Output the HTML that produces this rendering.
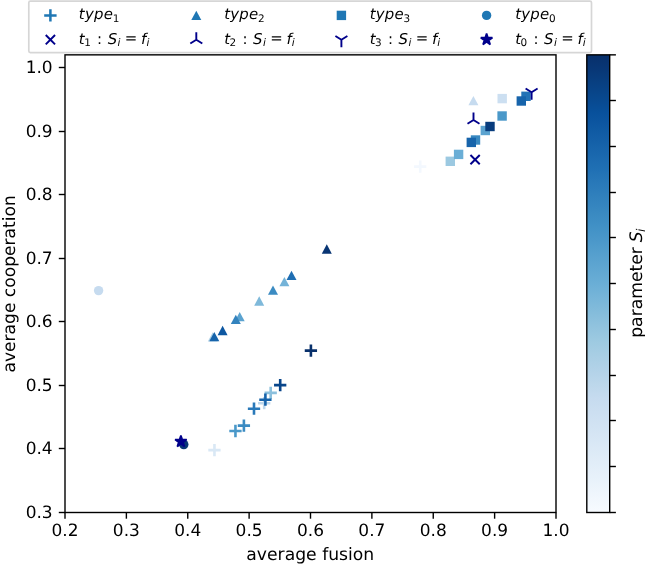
<!DOCTYPE html>
<html lang="en"><head><meta charset="utf-8"><title>average cooperation vs average fusion</title>
<style>html,body{margin:0;padding:0;background:#fff}svg{display:block;will-change:transform}text{text-rendering:geometricPrecision}</style></head>
<body>
<svg width="645" height="564" viewBox="0 0 645 564">
<rect width="645" height="564" fill="#fff"/>
<g id="data">
<path d="M414.05 166.60H426.35M420.20 160.45V172.75" stroke="#f3f8fe" stroke-width="2.6" fill="none"/>
<path d="M208.30 450.10H220.60M214.45 443.95V456.25" stroke="#d9e8f5" stroke-width="2.6" fill="none"/>
<path d="M229.30 431.00H241.60M235.45 424.85V437.15" stroke="#4a98c9" stroke-width="2.6" fill="none"/>
<path d="M237.75 425.65H250.05M243.90 419.50V431.80" stroke="#3b8bc2" stroke-width="2.6" fill="none"/>
<path d="M247.85 408.70H260.15M254.00 402.55V414.85" stroke="#2979b9" stroke-width="2.6" fill="none"/>
<path d="M258.05 403.20H270.35M264.20 397.05V409.35" stroke="#bdd7ec" stroke-width="2.6" fill="none"/>
<path d="M264.55 392.90H276.85M270.70 386.75V399.05" stroke="#8cc0dd" stroke-width="2.6" fill="none"/>
<path d="M259.25 399.70H271.55M265.40 393.55V405.85" stroke="#1764ab" stroke-width="2.6" fill="none"/>
<path d="M274.05 385.10H286.35M280.20 378.95V391.25" stroke="#08458a" stroke-width="2.6" fill="none"/>
<path d="M304.75 350.60H317.05M310.90 344.45V356.75" stroke="#08306b" stroke-width="2.6" fill="none"/>
<path d="M212.80 332.25L207.80 341.55L217.80 341.55Z" fill="#add0e6"/>
<path d="M214.30 332.00L209.30 341.30L219.30 341.30Z" fill="#1764ab"/>
<path d="M222.60 325.85L217.60 335.15L227.60 335.15Z" fill="#0d57a1"/>
<path d="M239.70 312.05L234.70 321.35L244.70 321.35Z" fill="#5ba3d0"/>
<path d="M235.80 314.65L230.80 323.95L240.80 323.95Z" fill="#3383be"/>
<path d="M259.20 296.35L254.20 305.65L264.20 305.65Z" fill="#7fb9da"/>
<path d="M273.00 285.55L268.00 294.85L278.00 294.85Z" fill="#3b8bc2"/>
<path d="M284.40 277.05L279.40 286.35L289.40 286.35Z" fill="#74b3d8"/>
<path d="M291.50 270.75L286.50 280.05L296.50 280.05Z" fill="#1f6eb3"/>
<path d="M326.80 244.35L321.80 253.65L331.80 253.65Z" fill="#083573"/>
<path d="M473.40 96.00L468.40 105.30L478.40 105.30Z" fill="#c6dbef"/>
<rect x="445.60" y="156.60" width="9.4" height="9.4" fill="#9cc9e1"/>
<rect x="453.90" y="149.70" width="9.4" height="9.4" fill="#6aaed6"/>
<rect x="470.80" y="135.30" width="9.4" height="9.4" fill="#3989c1"/>
<rect x="466.60" y="137.70" width="9.4" height="9.4" fill="#1764ab"/>
<rect x="480.60" y="125.80" width="9.4" height="9.4" fill="#5ba3d0"/>
<rect x="485.30" y="121.80" width="9.4" height="9.4" fill="#083c7d"/>
<rect x="497.40" y="111.30" width="9.4" height="9.4" fill="#4a98c9"/>
<rect x="497.50" y="93.90" width="9.4" height="9.4" fill="#ccdff1"/>
<rect x="521.30" y="91.60" width="9.4" height="9.4" fill="#2373b6"/>
<rect x="516.60" y="96.30" width="9.4" height="9.4" fill="#1764ab"/>
<circle cx="98.60" cy="290.60" r="4.70" fill="#c6dbef"/>
<circle cx="183.80" cy="444.60" r="4.70" fill="#083776"/>
<path d="M470.45 154.95L479.75 164.25M470.45 164.25L479.75 154.95" stroke="#00008b" stroke-width="1.95" fill="none"/>
<path d="M473.50 120.00V112.50M473.50 120.00L479.50 123.75M473.50 120.00L467.50 123.75" stroke="#00008b" stroke-width="1.9" fill="none"/>
<path d="M531.60 92.20V99.70M531.60 92.20L537.60 88.45M531.60 92.20L525.60 88.45" stroke="#00008b" stroke-width="1.9" fill="none"/>
<polygon points="180.90,435.40 182.27,439.61 186.70,439.61 183.12,442.22 184.49,446.44 180.90,443.83 177.31,446.44 178.68,442.22 175.10,439.61 179.53,439.61" fill="#00008b" stroke="#00008b" stroke-width="1.7" stroke-linejoin="bevel"/>
</g>
<g id="axes" stroke="#000" stroke-width="1.4" fill="none">
<rect x="65.0" y="54.85" width="491.00" height="457.65"/>
<path d="M65.00 512.5v6.2"/>
<path d="M126.38 512.5v6.2"/>
<path d="M187.75 512.5v6.2"/>
<path d="M249.12 512.5v6.2"/>
<path d="M310.50 512.5v6.2"/>
<path d="M371.88 512.5v6.2"/>
<path d="M433.25 512.5v6.2"/>
<path d="M494.62 512.5v6.2"/>
<path d="M556.00 512.5v6.2"/>
<path d="M65.0 512.50h-6.2"/>
<path d="M65.0 448.50h-6.2"/>
<path d="M65.0 385.50h-6.2"/>
<path d="M65.0 321.50h-6.2"/>
<path d="M65.0 258.50h-6.2"/>
<path d="M65.0 194.50h-6.2"/>
<path d="M65.0 131.50h-6.2"/>
<path d="M65.0 67.50h-6.2"/>
</g>
<g id="ticklabels" font-family="'DejaVu Sans','Liberation Sans',sans-serif" font-size="17.0" fill="#000">
<text x="65.00" y="536.4" text-anchor="middle">0.2</text>
<text x="126.38" y="536.4" text-anchor="middle">0.3</text>
<text x="187.75" y="536.4" text-anchor="middle">0.4</text>
<text x="249.12" y="536.4" text-anchor="middle">0.5</text>
<text x="310.50" y="536.4" text-anchor="middle">0.6</text>
<text x="371.88" y="536.4" text-anchor="middle">0.7</text>
<text x="433.25" y="536.4" text-anchor="middle">0.8</text>
<text x="494.62" y="536.4" text-anchor="middle">0.9</text>
<text x="556.00" y="536.4" text-anchor="middle">1.0</text>
<text x="52.70" y="518.30" text-anchor="end">0.3</text>
<text x="52.70" y="454.30" text-anchor="end">0.4</text>
<text x="52.70" y="391.30" text-anchor="end">0.5</text>
<text x="52.70" y="327.30" text-anchor="end">0.6</text>
<text x="52.70" y="264.30" text-anchor="end">0.7</text>
<text x="52.70" y="200.30" text-anchor="end">0.8</text>
<text x="52.70" y="137.30" text-anchor="end">0.9</text>
<text x="52.70" y="73.30" text-anchor="end">1.0</text>
<text x="310.3" y="559.6" text-anchor="middle" font-size="17.2">average fusion</text>
<text transform="translate(14.6 283.9) rotate(-90)" text-anchor="middle" font-size="17.1">average cooperation</text>
</g>
<defs><linearGradient id="cb" x1="0" y1="0" x2="0" y2="1"><stop offset="0.0000" stop-color="#08306b"/><stop offset="0.0312" stop-color="#083776"/><stop offset="0.0625" stop-color="#084082"/><stop offset="0.0938" stop-color="#08488e"/><stop offset="0.1250" stop-color="#08509b"/><stop offset="0.1562" stop-color="#0e58a2"/><stop offset="0.1875" stop-color="#1460a8"/><stop offset="0.2188" stop-color="#1a68ae"/><stop offset="0.2500" stop-color="#2070b4"/><stop offset="0.2812" stop-color="#2979b9"/><stop offset="0.3125" stop-color="#3181bd"/><stop offset="0.3438" stop-color="#3989c1"/><stop offset="0.3750" stop-color="#4191c6"/><stop offset="0.4062" stop-color="#4b98ca"/><stop offset="0.4375" stop-color="#56a0ce"/><stop offset="0.4688" stop-color="#60a7d2"/><stop offset="0.5000" stop-color="#6aaed6"/><stop offset="0.5312" stop-color="#77b5d9"/><stop offset="0.5625" stop-color="#84bcdb"/><stop offset="0.5938" stop-color="#91c3de"/><stop offset="0.6250" stop-color="#9dcae1"/><stop offset="0.6562" stop-color="#a8cee4"/><stop offset="0.6875" stop-color="#b2d2e8"/><stop offset="0.7188" stop-color="#bcd7eb"/><stop offset="0.7500" stop-color="#c6dbef"/><stop offset="0.7812" stop-color="#ccdff1"/><stop offset="0.8125" stop-color="#d2e3f3"/><stop offset="0.8438" stop-color="#d8e7f5"/><stop offset="0.8750" stop-color="#deebf7"/><stop offset="0.9062" stop-color="#e4eff9"/><stop offset="0.9375" stop-color="#eaf3fb"/><stop offset="0.9688" stop-color="#f1f7fd"/><stop offset="1.0000" stop-color="#f7fbff"/></linearGradient></defs>
<rect x="586.8" y="54.85" width="22.90" height="457.65" fill="url(#cb)" stroke="#000" stroke-width="1.4"/>
<g stroke="#000" stroke-width="1.4">
<path d="M609.7 54.85h6.2"/>
<path d="M609.7 100.50h6.2"/>
<path d="M609.7 146.50h6.2"/>
<path d="M609.7 192.50h6.2"/>
<path d="M609.7 237.50h6.2"/>
<path d="M609.7 283.50h6.2"/>
<path d="M609.7 329.50h6.2"/>
<path d="M609.7 375.50h6.2"/>
<path d="M609.7 420.50h6.2"/>
<path d="M609.7 466.50h6.2"/>
<path d="M609.7 512.50h6.2"/>
</g>
<g font-family="'DejaVu Sans','Liberation Sans',sans-serif" fill="#000" transform="translate(642.0 337.8) rotate(-90)">
<text x="0" y="0" font-size="17.2">parameter</text>
<text x="95.6" y="0" font-size="17.2" font-style="italic">S</text>
<text x="105.9" y="2.6" font-size="12.04" font-style="italic">i</text>
</g>
<rect x="28.8" y="1.2" width="562.70" height="51.40" rx="1.6" fill="#fff" fill-opacity="0.8" stroke="#ccc" stroke-opacity="0.8" stroke-width="1.68"/>
<path d="M44.20 15.40H56.60M50.40 9.20V21.60" stroke="#1f77b4" stroke-width="2.5" fill="none"/>
<path d="M196.30 10.75L191.30 20.05L201.30 20.05Z" fill="#1f77b4"/>
<rect x="336.70" y="10.70" width="9.4" height="9.4" fill="#1f77b4"/>
<circle cx="486.60" cy="15.40" r="4.70" fill="#1f77b4"/>
<path d="M45.75 35.05L55.05 44.35M45.75 44.35L55.05 35.05" stroke="#00008b" stroke-width="1.95" fill="none"/>
<path d="M196.30 39.70V32.20M196.30 39.70L202.30 43.45M196.30 39.70L190.30 43.45" stroke="#00008b" stroke-width="1.9" fill="none"/>
<path d="M341.40 39.70V47.20M341.40 39.70L347.40 35.95M341.40 39.70L335.40 35.95" stroke="#00008b" stroke-width="1.9" fill="none"/>
<polygon points="486.60,33.50 487.97,37.71 492.40,37.71 488.82,40.32 490.19,44.54 486.60,41.93 483.01,44.54 484.38,40.32 480.80,37.71 485.23,37.71" fill="#00008b" stroke="#00008b" stroke-width="1.7" stroke-linejoin="bevel"/>
<g font-family="'DejaVu Sans','Liberation Sans',sans-serif" fill="#000" font-size="14.9">
<text x="78.8" y="19.4" font-style="italic" letter-spacing="0.25">type</text>
<text x="112.70" y="21.60" font-size="10.43">1</text>
<text x="78.8" y="43.6" font-style="italic">t</text>
<text x="84.20" y="45.80" font-size="10.43">1</text>
<text x="97.10" y="43.6">:</text>
<text x="107.70" y="43.6" font-style="italic">S</text>
<text x="117.60" y="45.80" font-size="10.43" font-style="italic">i</text>
<text x="124.80" y="43.10">=</text>
<text x="141.10" y="43.6" font-style="italic">f</text>
<text x="146.40" y="45.80" font-size="10.43" font-style="italic">i</text>
<text x="224.2" y="19.4" font-style="italic" letter-spacing="0.25">type</text>
<text x="258.10" y="21.60" font-size="10.43">2</text>
<text x="224.2" y="43.6" font-style="italic">t</text>
<text x="229.60" y="45.80" font-size="10.43">2</text>
<text x="242.50" y="43.6">:</text>
<text x="253.10" y="43.6" font-style="italic">S</text>
<text x="263.00" y="45.80" font-size="10.43" font-style="italic">i</text>
<text x="270.20" y="43.10">=</text>
<text x="286.50" y="43.6" font-style="italic">f</text>
<text x="291.80" y="45.80" font-size="10.43" font-style="italic">i</text>
<text x="369.7" y="19.4" font-style="italic" letter-spacing="0.25">type</text>
<text x="403.60" y="21.60" font-size="10.43">3</text>
<text x="369.7" y="43.6" font-style="italic">t</text>
<text x="375.10" y="45.80" font-size="10.43">3</text>
<text x="388.00" y="43.6">:</text>
<text x="398.60" y="43.6" font-style="italic">S</text>
<text x="408.50" y="45.80" font-size="10.43" font-style="italic">i</text>
<text x="415.70" y="43.10">=</text>
<text x="432.00" y="43.6" font-style="italic">f</text>
<text x="437.30" y="45.80" font-size="10.43" font-style="italic">i</text>
<text x="515.2" y="19.4" font-style="italic" letter-spacing="0.25">type</text>
<text x="549.10" y="21.60" font-size="10.43">0</text>
<text x="515.2" y="43.6" font-style="italic">t</text>
<text x="520.60" y="45.80" font-size="10.43">0</text>
<text x="533.50" y="43.6">:</text>
<text x="544.10" y="43.6" font-style="italic">S</text>
<text x="554.00" y="45.80" font-size="10.43" font-style="italic">i</text>
<text x="561.20" y="43.10">=</text>
<text x="577.50" y="43.6" font-style="italic">f</text>
<text x="582.80" y="45.80" font-size="10.43" font-style="italic">i</text>
</g>
</svg>
</body></html>
